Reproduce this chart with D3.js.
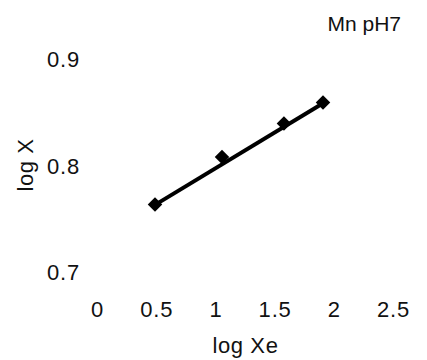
<!DOCTYPE html>
<html>
<head>
<meta charset="utf-8">
<script src="https://cdn.jsdelivr.net/npm/d3@7"></script>
<style>
  html, body { margin: 0; padding: 0; background: #fff; }
  svg { display: block; }
  text { font-family: "Liberation Sans", Arial, sans-serif; fill: #111; }
</style>
</head>
<body>
<svg id="chart" width="427" height="360"></svg>
<script>
// Data
const logXe = [0.49, 1.056, 1.579, 1.909];
const logX  = [0.7638, 0.8085, 0.840, 0.8596];
// fitted straight line (endpoints)
const fitXe = [0.49, 1.909];
const fitX  = [0.7635, 0.859];
const xTicks = [0, 0.5, 1, 1.5, 2, 2.5];
const yTicks = [0.7, 0.8, 0.9];
const title = "Mn pH7";
const xTitle = "log Xe";
const yTitle = "log X";

const svg = d3.select("#chart");
const x = d3.scaleLinear().domain([0, 2.5]).range([97, 393]);
const y = d3.scaleLinear().domain([0.7, 0.9]).range([272.5, 59.5]);

// x axis (labels only)
const gx = svg.append("g").attr("transform", "translate(0,290)")
  .call(d3.axisBottom(x).tickValues(xTicks).tickSize(0).tickPadding(11.4)
    .tickFormat(d => String(d)));
gx.select(".domain").remove();
gx.selectAll("text").style("font-size", "22px").attr("fill", "#111")
  .style("letter-spacing", "0.8px")
  .style("font-family", "'Liberation Sans', Arial, sans-serif");

// y axis (labels only)
const gy = svg.append("g").attr("transform", "translate(80,0)")
  .call(d3.axisLeft(y).tickValues(yTicks).tickSize(0).tickPadding(0)
    .tickFormat(d3.format(".1f")));
gy.select(".domain").remove();
gy.selectAll("text").style("font-size", "22px").attr("fill", "#111")
  .style("letter-spacing", "0.8px")
  .style("font-family", "'Liberation Sans', Arial, sans-serif");

// fit line
const fit = fitXe.map((v, i) => [v, fitX[i]]);
svg.append("path")
  .datum(fit)
  .attr("fill", "none")
  .attr("stroke", "#000")
  .attr("stroke-width", 4)
  .attr("d", d3.line().x(d => x(d[0])).y(d => y(d[1])));

// diamond markers
const pts = logXe.map((v, i) => [v, logX[i]]);
svg.selectAll("path.pt").data(pts).enter().append("path")
  .attr("class", "pt")
  .attr("d", d3.symbol().type(d3.symbolSquare).size(105))
  .attr("transform", d => `translate(${x(d[0])},${y(d[1])}) rotate(45)`)
  .attr("fill", "#000");

// titles
svg.append("text").attr("x", 401).attr("y", 31)
  .attr("text-anchor", "end").style("font-size", "21px").text(title);
svg.append("text").attr("x", 245.5).attr("y", 353)
  .attr("text-anchor", "middle").style("font-size", "22px")
  .style("letter-spacing", "0.6px").text(xTitle);
svg.append("text").attr("transform", "translate(33,165) rotate(-90)")
  .attr("text-anchor", "middle").style("font-size", "22px")
  .style("letter-spacing", "0.6px").text(yTitle);
</script>
</body>
</html>
